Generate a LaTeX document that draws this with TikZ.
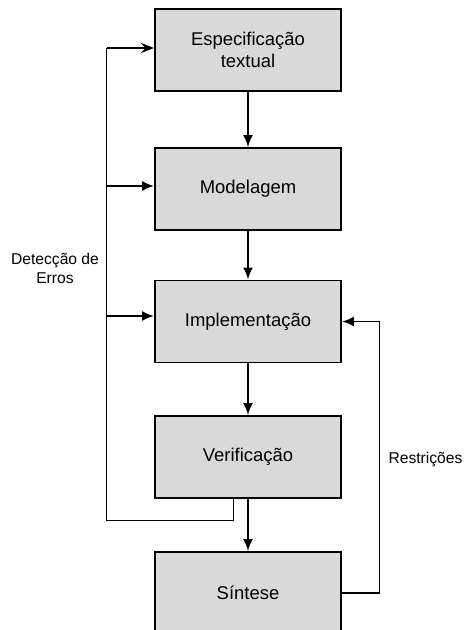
\documentclass[tikz,border=0pt]{standalone}
\usepackage{fontspec}
\setmainfont{Liberation Sans}
\usetikzlibrary{arrows.meta}

\tikzset{
  etapa/.style={draw=black, line width=1.1pt, fill=black!15, minimum width=3.72cm,
    minimum height=1.64cm, align=center, font=\fontsize{10.5}{12.6}\selectfont},
  fluxo/.style={line width=1.1pt, -{Latex[length=2.4mm,width=2mm]}},
  rotulo/.style={align=center, font=\fontsize{8.9}{10.6}\selectfont}
}

\begin{document}
\begin{tikzpicture}
  \useasboundingbox (0,0) rectangle (9.3,-12.6);
  \clip (0,0) rectangle (9.3,-12.6);

  \node[etapa] (espec) at (4.96,-1.0) {Especificação\\textual};
  \node[etapa] (model) at (4.96,-3.78) {Modelagem};
  \node[etapa] (impl) at (4.96,-6.43) {Implementação};
  \node[etapa] (verif) at (4.96,-9.14) {Verificação};
  \node[etapa] (sint) at (4.96,-11.86) {Síntese};

  \draw[fluxo] (espec) -- (model);
  \draw[fluxo] (model) -- (impl);
  \draw[fluxo] (impl) -- (verif);
  \draw[fluxo] (verif) -- (sint);

  % laco de deteccao de erros
  \coordinate (E1) at (2.13,-0.96);
  \coordinate (E2) at (2.13,-3.72);
  \coordinate (E3) at (2.13,-6.32);
  \coordinate (E4) at (2.13,-10.41);
  \coordinate (E5) at (4.67,-10.41);

  \draw[line width=1.1pt] (4.67,0 |- verif.south) -- (E5) -- (E4) -- (E1);
  \draw[line width=1.1pt, -{Stealth[length=2.6mm,width=2mm,inset=0.9mm]}] (E1) -- (E1 -| espec.west);
  \draw[fluxo] (E2) -- (E2 -| model.west);
  \draw[fluxo] (E3) -- (E3 -| impl.west);

  \node[rotulo] (erros) at (1.1,-5.37) {Detecção de\\Erros};

  % restricoes
  \coordinate (R1) at (7.59,0 |- sint.east);
  \coordinate (R2) at (7.59,0 |- impl.east);
  \draw[fluxo] (sint.east) -- (R1) -- (R2) -- (impl.east);

  \node[rotulo] (restr) at (8.51,-9.18) {Restrições};
\end{tikzpicture}
\end{document}
